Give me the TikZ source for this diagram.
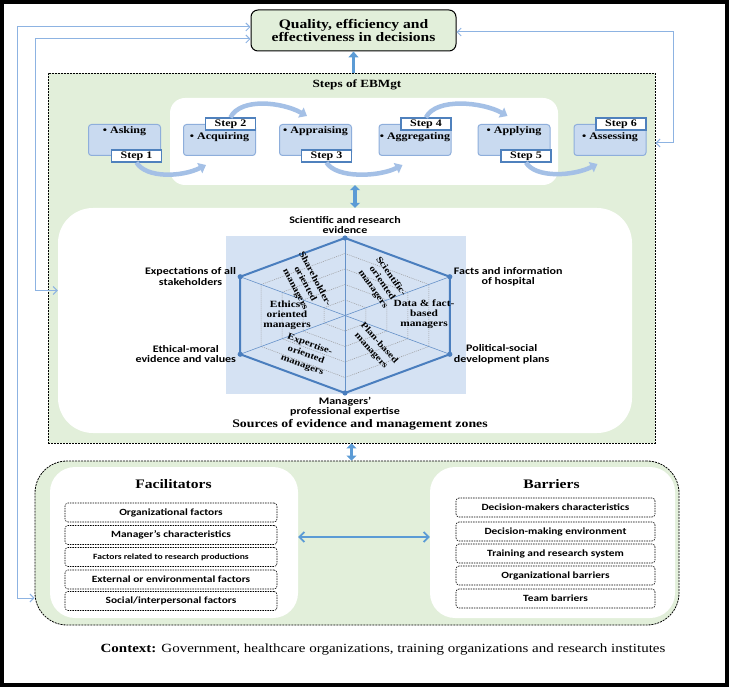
\documentclass[tikz,border=0pt]{standalone}
\usepackage{fontspec}
\setmainfont{Liberation Serif}[FakeStretch=1.2]
\setsansfont{Carlito}[FakeStretch=1.2]
\usepackage{tikz}
\usetikzlibrary{arrows.meta,positioning,calc}

\definecolor{zonegreen}{HTML}{E2EFDA}
\definecolor{boxblue}{HTML}{C9DAF0}
\definecolor{boxline}{HTML}{8EAEDB}
\definecolor{tabline}{HTML}{4F81BD}
\definecolor{arcblue}{HTML}{A4C0E6}
\definecolor{hexfill}{HTML}{D5E2F3}
\definecolor{hexline}{HTML}{4A7EBE}
\definecolor{linkblue}{HTML}{5B9BD5}
\definecolor{thinblue}{HTML}{8DB3E2}

\tikzset{
  goalbox/.style={draw,fill=zonegreen,line width=1pt,rounded corners=7pt,
    minimum width=205pt,minimum height=41pt,align=center,
    font=\bfseries\fontsize{13}{12.5}\selectfont},
  zone/.style={draw,fill=zonegreen,line width=0.8pt,dash pattern=on 2pt off 1pt},
  panel/.style={fill=white,rounded corners=#1},
  stepbox/.style={draw=boxline,fill=boxblue,line width=1pt,rounded corners=3pt,
    minimum width=72pt,minimum height=31pt},
  steptab/.style={draw=tabline,fill=white,line width=1.1pt,inner sep=1pt,
    minimum width=50pt,minimum height=12pt,font=\bfseries\fontsize{10}{10}\selectfont},
  steptext/.style={inner sep=1pt,font=\bfseries\fontsize{10}{10}\selectfont},
  steparc/.style={arcblue,line width=4.5pt,-{Triangle[width=11pt,length=7pt]}},
  ring/.style={gray!80,line width=0.5pt,dash pattern=on 1pt off 1pt},
  spoke/.style={hexline!85,line width=0.6pt},
  hexedge/.style={hexline,line width=2pt,line join=round},
  zonetext/.style={align=center,inner sep=0pt,font=\bfseries\fontsize{9.5}{10}\selectfont},
  zonerot/.style={align=center,inner sep=0pt,rotate=#1,font=\bfseries\fontsize{9}{11}\selectfont},
  source/.style={align=center,inner sep=1pt,font=\sffamily\bfseries\fontsize{10}{10.5}\selectfont},
  title/.style={font=\bfseries\fontsize{#1}{#1}\selectfont},
  item/.style={draw,line width=0.6pt,dash pattern=on 1.5pt off 1pt,rounded corners=3pt,
    minimum height=19pt,inner sep=1pt,font=\sffamily\bfseries\fontsize{9.5}{10}\selectfont},
  bigarrow/.style={linkblue,line width=3.5pt},
  feedback/.style={thinblue,line width=1pt,
    {Straight Barb[length=4pt,width=8pt]}-{Straight Barb[length=4pt,width=8pt]}}
}

\begin{document}
\begin{tikzpicture}[x=1pt,y=-1pt]
    % Frame
    \draw [line width=4pt] (2,2) rectangle (727,685);

    % Decisions
    \node [goalbox] (goal) at (353.5,30.5) {Quality, efficiency and\\effectiveness in decisions};

    % Steps of EBMgt
    \node [zone,minimum width=607pt,minimum height=370pt] (steps) at (351.5,258) {};
    \node [title=11] (stepstitle) at (357,85) {Steps of EBMgt};
    \node [panel=15pt,minimum width=388pt,minimum height=87pt] (stepzone) at (364,141.5) {};
    \foreach \n/\x in {1/124.5,2/219.5,3/315.5,4/415,5/514,6/610}
        \node [stepbox] (s\n) at (\x,140) {};
    \node [steptext] (a1) at ($(s1.north)+(0,7)$) {• Asking};
    \node [steptext] (a2) at ($(s2.north)+(0,13)$) {• Acquiring};
    \node [steptext] (a3) at ($(s3.north)+(0,7)$) {• Appraising};
    \node [steptext] (a4) at ($(s4.north)+(0,13)$) {• Aggregating};
    \node [steptext] (a5) at ($(s5.north)+(0,7)$) {• Applying};
    \node [steptext] (a6) at ($(s6.north)+(0,13)$) {• Assessing};
    \node [steptab,anchor=east] (t1) at ([xshift=1pt]s1.south east) {Step 1};
    \node [steptab,anchor=east] (t2) at (s2.north east) {Step 2};
    \node [steptab,anchor=east] (t3) at (s3.south east) {Step 3};
    \node [steptab,anchor=east] (t4) at (s4.north east) {Step 4};
    \node [steptab,anchor=east] (t5) at ([xshift=1pt]s5.south east) {Step 5};
    \node [steptab,anchor=east] (t6) at (s6.north east) {Step 6};
    \draw [steparc] (t1.south) .. controls +(10,16) and +(-24,12) .. ($(s2.south west)+(23,9)$);
    \draw [steparc] (t2.north) .. controls +(10,-20) and +(-25,-14) .. ($(s3.north west)+(28,-8)$);
    \draw [steparc] (t3.south) .. controls +(10,16) and +(-24,12) .. ($(s4.south west)+(24,9)$);
    \draw [steparc] (t4.north) .. controls +(10,-20) and +(-25,-14) .. ($(s5.north west)+(30,-8)$);
    \draw [steparc] (t5.south) .. controls +(10,16) and +(-24,12) .. ($(s6.south west)+(24,8)$);

    % Sources of evidence and management zones
    \node [panel=35pt,minimum width=574pt,minimum height=225pt] (hexzone) at (345,320.5) {};
    \fill [hexfill] (226,236) rectangle (466,394);
    \coordinate (hc) at (345,315.5);
    \foreach \a [count=\i] in {90,30,-30,-90,-150,150}
        \coordinate (v\i) at ($(hc)+({121*cos(\a)},{-77.5*sin(\a)})$);
    \foreach \f in {0.2,0.4,0.6,0.8}
        \draw [ring] ($(hc)!\f!(v1)$) -- ($(hc)!\f!(v2)$) -- ($(hc)!\f!(v3)$)
            -- ($(hc)!\f!(v4)$) -- ($(hc)!\f!(v5)$) -- ($(hc)!\f!(v6)$) -- cycle;
    \foreach \i in {1,...,6}
        \draw [spoke] (hc) -- (v\i);
    \draw [hexedge] (v1) -- (v2) -- (v3) -- (v4) -- (v5) -- (v6) -- cycle;
    \foreach \i in {1,...,6}
        \fill [hexline] (v\i) circle [radius=2.6];
    \node [zonerot=-62] (zshare) at (305,284) {Shareholder-\\oriented\\managers};
    \node [zonerot=-55] (zsci) at (382,283) {Scientific-\\oriented\\managers};
    \node [zonetext] (zdata) at (424,314) {Data \& fact-\\based\\managers};
    \node [zonerot=-48] (zplan) at (375,347) {Plan-based\\managers};
    \node [zonerot=-20] (zexp) at (306,355) {Expertise-\\oriented\\managers};
    \node [zonetext] (zeth) at (287,315) {Ethics-\\oriented\\managers};
    \node [source,above=3pt of v1] (src1) {Scientific and research\\evidence};
    \node [source,right=3pt of v2] (src2) {Facts and information\\of hospital};
    \node [source,right=3pt of v3] (src3) {Political-social\\development plans};
    \node [source,below=3pt of v4] (src4) {Managers'\\professional expertise};
    \node [source,left=3pt of v5] (src5) {Ethical-moral\\evidence and values};
    \node [source,left=3pt of v6] (src6) {Expectations of all\\stakeholders};
    \node [title=11.5] (srctitle) at (360,425) {Sources of evidence and management zones};

    % Facilitators and barriers
    \node [zone,rounded corners=32pt,minimum width=644pt,minimum height=164pt] (context) at (357,543) {};
    \node [panel=25pt,minimum width=248pt,minimum height=151pt] (facil) at (174,542.5) {};
    \node [panel=25pt,minimum width=245pt,minimum height=151pt] (barr) at (552.5,542.5) {};
    \node [title=13] (faciltitle) at (173.5,484) {Facilitators};
    \node [title=13] (barrtitle) at (551.5,484) {Barriers};
    \foreach \y/\t [count=\i] in {512.5/{Organizational factors},535/{Manager’s characteristics},
        557/{\fontsize{8}{9}\selectfont Factors related to research productions},
        579.5/{External or environmental factors},601/{Social/interpersonal factors}}
        \node [item,minimum width=212pt] (f\i) at (171,\y) {\t};
    \foreach \y/\t [count=\i] in {507.5/{Decision-makers characteristics},531.5/{Decision-making environment},
        553.5/{Training and research system},575.5/{Organizational barriers},598.5/{Team barriers}}
        \node [item,minimum width=199pt] (b\i) at (555.5,\y) {\t};
    \node [font=\fontsize{12.5}{12.5}\selectfont] (ctx) at (383,650)
        {\textbf{Context:} Government, healthcare organizations, training organizations and research institutes};

    % Links
    \draw [bigarrow,-{Triangle[width=10pt,length=6pt]}] (steps.north -| goal.south) -- (goal.south);
    \draw [bigarrow,{Triangle[width=10pt,length=5pt]}-{Triangle[width=10pt,length=5pt]}]
        ([xshift=-9pt]stepzone.south) -- ([xshift=-9pt]stepzone.south |- hexzone.north);
    \draw [bigarrow,{Triangle[width=10pt,length=5pt]}-{Triangle[width=10pt,length=5pt]}]
        (steps.south) -- (steps.south |- context.north);
    \draw [linkblue,line width=1.8pt,{Straight Barb[length=5pt,width=10pt]}-{Straight Barb[length=5pt,width=10pt]}]
        ([yshift=5.5pt]facil.east) -- ([yshift=5.5pt]barr.west);
    \draw [feedback] ([yshift=-55pt]context.west) -| (17,27) -- (goal.west |- 17,27);
    \draw [feedback] ([yshift=30pt]hexzone.west) -| (35,39) -- (goal.west |- 35,39);
    \draw [feedback] ([yshift=-1.5pt]goal.east) -| (673,143) -- (steps.east |- 673,143);
\end{tikzpicture}
\end{document}
